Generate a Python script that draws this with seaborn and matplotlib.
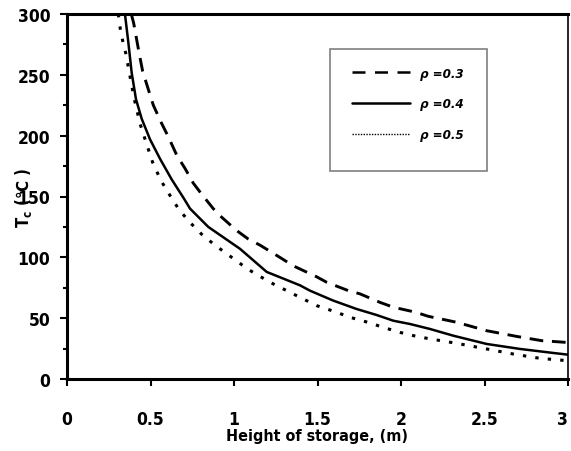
import matplotlib
matplotlib.use("Agg")
import matplotlib.pyplot as plt
import pandas as pd
import seaborn as sns
from matplotlib.lines import Line2D
from matplotlib.patches import Rectangle
from matplotlib.ticker import MultipleLocator
from matplotlib import font_manager

# ---- data ----
labels = ["ρ =0.3", "ρ =0.4", "ρ =0.5"]

x_rho03 = [0.385, 0.40, 0.433, 0.453, 0.487, 0.517, 0.567, 0.607, 0.657, 0.707, 0.756,
           0.806, 0.876, 0.926, 1.016, 1.086, 1.156, 1.286, 1.355, 1.495, 1.555, 1.685,
           1.754, 1.874, 1.954, 2.084, 2.164, 2.334, 2.513, 2.693, 2.843, 3.0]
y_rho03 = [300, 292, 267, 253, 238, 225, 210, 199, 184, 173, 161,
           152, 140, 133, 122, 115, 110, 99, 93, 84, 79.5, 72.6,
           70, 63, 59, 55, 51.5, 46.6, 39.7, 35, 31.5, 30]

x_rho04 = [0.347, 0.367, 0.387, 0.413, 0.447, 0.497, 0.557, 0.627, 0.697, 0.737, 0.846,
           1.036, 1.196, 1.395, 1.455, 1.595, 1.735, 1.854, 1.954, 2.054, 2.174, 2.313,
           2.513, 2.713, 2.912, 3.0]
y_rho04 = [300, 277, 252, 230, 214, 197, 181, 164, 149, 140, 125,
           107, 88, 77, 72.6, 64.4, 57.5, 52.6, 47.9, 45.2, 41.1, 35.6,
           28.8, 24.7, 21.4, 20]

x_rho05 = [0.307, 0.323, 0.353, 0.377, 0.403, 0.437, 0.477, 0.513, 0.563, 0.607, 0.667,
           0.727, 0.806, 0.886, 0.956, 1.086, 1.216, 1.375, 1.495, 1.605, 1.695, 1.804,
           1.894, 1.994, 2.094, 2.174, 2.334, 2.513, 2.673, 2.832, 3.0]
y_rho05 = [300, 284, 267, 249, 230, 210, 193, 178, 163, 153, 140,
           130, 119, 110, 103, 90, 79.5, 68.5, 60.3, 55.3, 50.7, 46.5,
           42.4, 38.3, 35, 33, 29.3, 24.7, 20.5, 17, 15]

x_ticks = [0, 0.5, 1, 1.5, 2, 2.5, 3]
x_ticklabels = ["0", "0.5", "1", "1.5", "2", "2.5", "3"]
y_ticks = [0, 50, 100, 150, 200, 250, 300]

# ---- style ----
sns.set_theme(style="ticks")
names = {f.name for f in font_manager.fontManager.ttflist}
fam = [n for n in ["Liberation Sans Narrow", "DejaVu Sans"] if n in names] or ["DejaVu Sans"]
plt.rcParams["font.family"] = fam
plt.rcParams["font.weight"] = "bold"
plt.rcParams["font.stretch"] = "condensed"

df = pd.concat([
    pd.DataFrame({"x": x_rho03, "y": y_rho03, "rho": labels[0]}),
    pd.DataFrame({"x": x_rho04, "y": y_rho04, "rho": labels[1]}),
    pd.DataFrame({"x": x_rho05, "y": y_rho05, "rho": labels[2]}),
], ignore_index=True)

fig = plt.figure(figsize=(5.71, 4.52), dpi=100)
ax = fig.add_axes([67 / 571, 1 - 380 / 452, 501 / 571, 365 / 452])

sns.lineplot(data=df, x="x", y="y", hue="rho", style="rho",
             palette=["black"] * 3,
             dashes={labels[0]: (4.7, 3.0), labels[1]: "", labels[2]: (1.1, 3.0)},
             sort=False, estimator=None, legend=False, ax=ax)

widths = {0: 2.1, 1: 1.8, 2: 2.2}
for i, ln in enumerate(ax.lines):
    ln.set_linewidth(widths.get(i, 1.8))
    ln.set_solid_capstyle("butt")
    ln.set_dash_capstyle("butt")

ax.set_xlim(0, 3)
ax.set_ylim(0, 300)
ax.set_xticks(x_ticks)
ax.set_xticklabels(x_ticklabels)
ax.set_yticks(y_ticks)
ax.yaxis.set_minor_locator(MultipleLocator(25))

for side in ["top", "left", "bottom"]:
    ax.spines[side].set_visible(True)
    ax.spines[side].set_linewidth(2.2)
    ax.spines[side].set_color("black")
ax.spines["right"].set_visible(True)
ax.spines["right"].set_linewidth(1.2)
ax.spines["right"].set_color("black")

ax.tick_params(axis="x", which="major", direction="out", length=5, width=1.5,
               pad=17, labelsize=12.5, colors="black")
ax.tick_params(axis="y", which="major", direction="out", length=5, width=1.5,
               pad=7, labelsize=12.5, colors="black")
ax.tick_params(axis="y", which="minor", direction="out", length=3, width=1.5,
               colors="black")
for lab in ax.get_xticklabels() + ax.get_yticklabels():
    lab.set_fontweight("bold")
    lab.set_fontstretch("condensed")
xt = ax.get_xticklabels()
xt[-1].set_horizontalalignment("right")

ax.set_xlabel("Height of storage, (m)", fontsize=11.5, fontweight="bold",
              fontstretch="condensed", color="black")
ax.set_ylabel("T$_\\mathrm{c}$ (℃ )", fontsize=12, fontweight="bold",
              fontstretch="condensed", color="black")
ax.xaxis.set_label_coords(0.5, -0.135)
ax.yaxis.set_label_coords(-0.066, 0.5)

# ---- legend ----
frame = Rectangle((330, 452 - 172), 157, 122, transform=None,
                  fill=False, edgecolor="#7f7f7f", linewidth=1.2, zorder=5)
fig.patches.append(frame)
handles = [
    Line2D([], [], color="black", lw=1.8, dashes=(5.2, 3.8)),
    Line2D([], [], color="black", lw=1.8),
    Line2D([], [], color="black", lw=1.0, dashes=(1.0, 1.0)),
]
leg = ax.legend(handles, labels, loc="upper left",
                bbox_to_anchor=((337 - 67) / 501, (380 - 53) / 365),
                frameon=False, handlelength=4.4, handletextpad=0.8,
                labelspacing=1.35, borderpad=0.6,
                prop={"size": 9.5, "weight": "bold", "style": "italic",
                      "stretch": "condensed"})
for t in leg.get_texts():
    t.set_color("black")

fig.savefig("out.png", dpi=100, facecolor="white")
